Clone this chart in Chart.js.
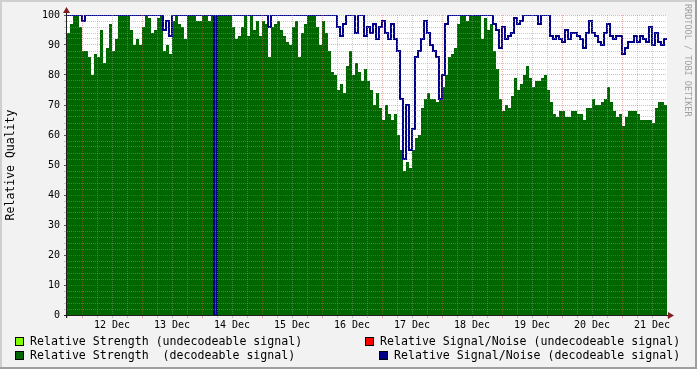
<!DOCTYPE html>
<html>
<head>
<meta charset="utf-8">
<script src="https://cdn.jsdelivr.net/npm/chart.js@4"></script>
<style>
  html, body { margin: 0; padding: 0; background: #f2f2f2; }
  #wrap { position: relative; width: 697px; height: 369px; overflow: hidden; }
  #wrap canvas { position: absolute; left: 0; top: 0; }
  .lg { position: absolute; font: 11.6px "DejaVu Sans Mono"; white-space: pre; color: #000; line-height: 14px; }
  .box { position: absolute; width: 7px; height: 7px; border: 1px solid #000; }
  #wm { position: absolute; left: 683px; top: 4px; writing-mode: vertical-rl; font: 8.5px "DejaVu Sans Mono"; color: #a0a0a0; white-space: pre; }
</style>
</head>
<body>
<div id="wrap">
  <canvas id="c" width="697" height="369"></canvas>
  <div id="wm">RRDTOOL / TOBI OETIKER</div>
</div>
<script>
// 10 days, 11 Dec 18:00 -> 21 Dec 18:00, one sample every 1.2 h
var spanHours = 240;
var dayLabels = ['12 Dec', '13 Dec', '14 Dec', '15 Dec', '16 Dec', '17 Dec', '18 Dec', '19 Dec', '20 Dec', '21 Dec'];

// Relative Strength (decodeable signal)
var strength = [
  94, 97, 100, 100, 96, 88, 88, 86, 80, 87,
  86, 95, 84, 89, 97, 88, 92, 100, 100, 100,
  100, 95, 90, 92, 90, 96, 100, 99, 94, 95,
  99, 100, 88, 90, 87, 98, 100, 97, 96, 92,
  100, 100, 100, 98, 98, 100, 100, 98, 100, 100,
  100, 100, 100, 100, 100, 96, 92, 93, 96, 100,
  93, 100, 95, 98, 93, 98, 97, 86, 96, 97,
  98, 95, 93, 91, 90, 96, 98, 86, 94, 97,
  100, 100, 100, 96, 90, 98, 94, 88, 81, 80,
  75, 77, 74, 83, 88, 80, 84, 81, 78, 82,
  78, 75, 70, 74, 69, 65, 70, 67, 65, 67,
  60, 55, 48, 51, 49, 55, 59, 60, 69, 72,
  74, 72, 72, 71, 72, 76, 80, 86, 87, 89,
  97, 100, 100, 98, 100, 100, 100, 100, 92, 99,
  95, 97, 88, 82, 72, 68, 70, 69, 73, 79,
  75, 77, 80, 83, 79, 76, 78, 78, 79, 80,
  75, 71, 67, 66, 68, 68, 66, 66, 68, 68,
  67, 67, 65, 69, 69, 72, 70, 70, 71, 72,
  76, 71, 68, 66, 67, 63, 66, 68, 68, 68,
  67, 65, 65, 65, 65, 64, 69, 71, 71, 70
];

// Relative Signal/Noise (decodeable signal)
var snr = [
  100, 100, 100, 100, 100, 98, 100, 100, 100, 100,
  100, 100, 100, 100, 100, 100, 100, 100, 100, 100,
  100, 100, 100, 100, 100, 100, 100, 100, 100, 100,
  100, 100, 95, 98, 93, 100, 100, 100, 100, 100,
  100, 100, 100, 100, 100, 100, 100, 100, 100, 0,
  100, 100, 100, 100, 100, 100, 100, 100, 100, 100,
  100, 100, 100, 100, 100, 100, 100, 96, 100, 100,
  100, 100, 100, 100, 100, 100, 100, 100, 100, 100,
  100, 100, 100, 100, 100, 100, 100, 100, 100, 100,
  96, 93, 97, 100, 100, 100, 94, 100, 100, 93,
  96, 94, 97, 92, 96, 98, 94, 92, 97, 92,
  88, 72, 52, 70, 55, 62, 86, 88, 92, 98,
  94, 90, 88, 86, 72, 80, 97, 100, 100, 100,
  100, 100, 100, 100, 100, 100, 100, 100, 100, 100,
  100, 100, 97, 95, 89, 96, 92, 93, 94, 99,
  97, 98, 100, 100, 100, 100, 100, 97, 100, 100,
  100, 93, 92, 93, 92, 91, 95, 92, 94, 94,
  93, 92, 89, 94, 98, 94, 93, 91, 90, 94,
  97, 93, 92, 93, 93, 87, 89, 91, 91, 93,
  91, 93, 92, 91, 96, 90, 94, 91, 90, 92
];

var legendItems = [
  { text: 'Relative Strength (undecodeable signal)', color: '#80ff00', x: 15, row: 0 },
  { text: 'Relative Signal/Noise (undecodeable signal)', color: '#ff0000', x: 365, row: 0 },
  { text: 'Relative Strength  (decodeable signal)', color: '#006600', x: 15, row: 1 },
  { text: 'Relative Signal/Noise (decodeable signal)', color: '#000088', x: 379, row: 1 }
];

var GRID = 'rgba(150,150,150,0.5)';
var MGRID = 'rgba(222,79,79,0.45)';
var MONO = 'DejaVu Sans Mono';

function toPoints(arr) {
  var step = spanHours / arr.length;
  var pts = arr.map(function(v, i) { return { x: i * step, y: v }; });
  pts.push({ x: spanHours, y: arr[arr.length - 1] });
  return pts;
}

// legend (html)
var wrap = document.getElementById('wrap');
legendItems.forEach(function(it) {
  var b = document.createElement('div');
  b.className = 'box';
  b.style.left = it.x + 'px';
  b.style.top = (337 + it.row * 14) + 'px';
  b.style.background = it.color;
  wrap.appendChild(b);
  var t = document.createElement('div');
  t.className = 'lg';
  t.style.left = (it.x + 15) + 'px';
  t.style.top = (334 + it.row * 14) + 'px';
  t.textContent = it.text;
  wrap.appendChild(t);
});

var rrdFrame = {
  id: 'rrdFrame',
  beforeDraw: function(chart) {
    var c = chart.ctx, a = chart.chartArea, w = chart.width, h = chart.height;
    c.save();
    c.fillStyle = '#f2f2f2';
    c.fillRect(0, 0, w, h);
    c.fillStyle = '#cfcfcf';
    c.fillRect(0, 0, w, 2);
    c.fillRect(0, 0, 2, h);
    c.fillStyle = '#9e9e9e';
    c.fillRect(0, h - 2, w, 2);
    c.fillRect(w - 2, 0, 2, h);
    c.fillStyle = '#ffffff';
    c.fillRect(a.left, a.top, a.right - a.left, a.bottom - a.top);
    c.restore();
  },
  afterDraw: function(chart) {
    var c = chart.ctx, a = chart.chartArea;
    c.save();
    c.strokeStyle = '#1f1f1f';
    c.lineWidth = 1;
    c.beginPath();
    c.moveTo(a.left - 3, a.bottom + 0.5);
    c.lineTo(a.right + 4, a.bottom + 0.5);
    c.moveTo(a.left - 0.5, a.bottom + 3);
    c.lineTo(a.left - 0.5, a.top - 4);
    c.stroke();
    c.fillStyle = '#801f1f';
    c.beginPath();
    c.moveTo(a.right + 1, a.bottom - 3);
    c.lineTo(a.right + 7, a.bottom + 0.5);
    c.lineTo(a.right + 1, a.bottom + 4);
    c.closePath();
    c.fill();
    c.beginPath();
    c.moveTo(a.left - 4, a.top - 2);
    c.lineTo(a.left - 0.5, a.top - 8);
    c.lineTo(a.left + 3, a.top - 2);
    c.closePath();
    c.fill();
    c.restore();
  }
};

new Chart(document.getElementById('c').getContext('2d'), {
  type: 'line',
  data: {
    datasets: [
      {
        label: 'Relative Signal/Noise (decodeable signal)',
        data: toPoints(snr),
        borderColor: '#000088',
        borderWidth: 2,
        stepped: true,
        fill: false,
        pointRadius: 0,
        order: 0
      },
      {
        label: 'Relative Strength  (decodeable signal)',
        data: toPoints(strength),
        backgroundColor: '#006600',
        borderColor: '#006600',
        borderWidth: 0,
        stepped: true,
        fill: 'origin',
        pointRadius: 0,
        order: 1
      }
    ]
  },
  options: {
    responsive: false,
    animation: false,
    events: [],
    layout: { padding: { left: 0, top: 15, right: 30, bottom: 0 } },
    plugins: { legend: { display: false }, tooltip: { enabled: false } },
    scales: {
      x: {
        type: 'linear',
        min: 0,
        max: spanHours,
        afterFit: function(s) { s.height = 54; },
        ticks: {
          stepSize: 6,
          autoSkip: false,
          maxRotation: 0,
          padding: 1,
          color: '#000',
          font: { family: MONO, size: 10 },
          callback: function(v) {
            if ((v - 18) % 24 === 0) return dayLabels[(v - 18) / 24];
            return '';
          }
        },
        grid: {
          z: 1,
          lineWidth: 1,
          tickLength: 3,
          color: function(ctx) {
            var v = ctx.tick && ctx.tick.value;
            if (v === 0 || v === spanHours) return 'rgba(0,0,0,0)';
            return (v - 6) % 24 === 0 ? MGRID : GRID;
          },
          tickColor: function(ctx) {
            var v = ctx.tick && ctx.tick.value;
            return (v - 6) % 24 === 0 ? MGRID : GRID;
          }
        },
        border: { display: false, dash: [1, 1] }
      },
      y: {
        min: 0,
        max: 100,
        afterFit: function(s) { s.width = 67; },
        title: {
          display: true,
          text: 'Relative Quality',
          color: '#000',
          font: { family: MONO, size: 11.5 },
          padding: { top: 4, bottom: 0 }
        },
        ticks: {
          stepSize: 2,
          autoSkip: false,
          padding: 4,
          color: '#000',
          font: { family: MONO, size: 10 },
          callback: function(v) { return v % 10 === 0 ? String(v) : ''; }
        },
        grid: {
          z: 1,
          lineWidth: 1,
          tickLength: 3,
          color: function(ctx) {
            var v = ctx.tick && ctx.tick.value;
            if (v === 0) return 'rgba(0,0,0,0)';
            return v % 10 === 0 ? MGRID : GRID;
          },
          tickColor: function(ctx) {
            var v = ctx.tick && ctx.tick.value;
            return v % 10 === 0 ? '#555' : GRID;
          }
        },
        border: { display: false, dash: [1, 1] }
      }
    }
  },
  plugins: [rrdFrame]
});
</script>
</body>
</html>
